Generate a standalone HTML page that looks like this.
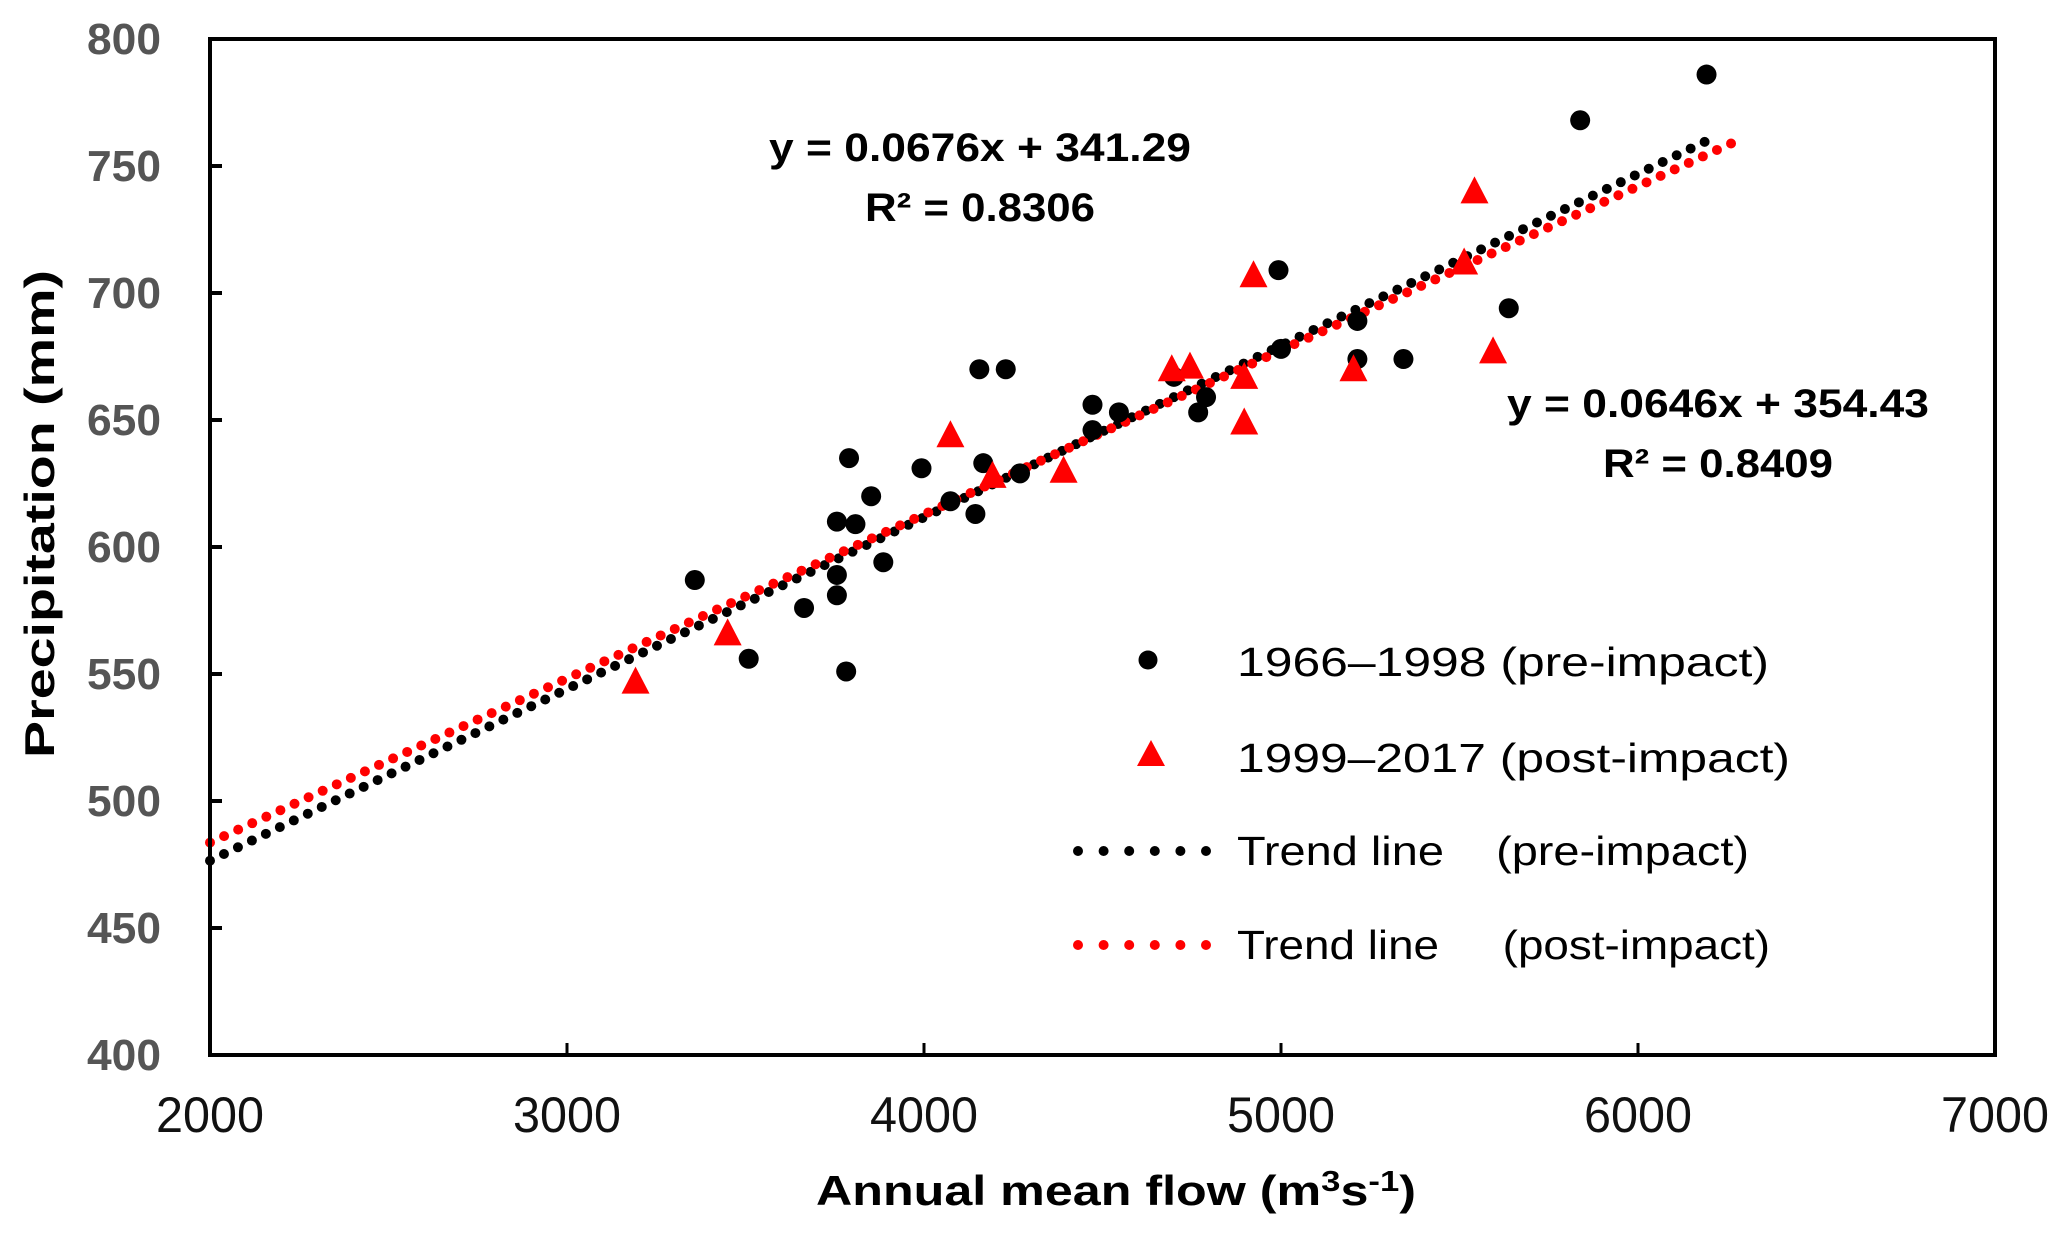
<!DOCTYPE html>
<html><head><meta charset="utf-8"><style>
html,body{margin:0;padding:0;background:#fff;}
svg{display:block;}
text{font-family:"Liberation Sans",sans-serif;}
</style></head><body>
<svg id="chart" width="2067" height="1237" viewBox="0 0 2067 1237" xmlns="http://www.w3.org/2000/svg">
<g id="trends"></g>
<g id="points"></g>
<rect x="210" y="39" width="1785" height="1016" fill="none" stroke="#000" stroke-width="4"/>
<g id="axes"></g>
<text x="980" y="161" text-anchor="middle" font-weight="bold" font-size="40" textLength="422" lengthAdjust="spacingAndGlyphs">y = 0.0676x + 341.29</text>
<text x="980" y="221" text-anchor="middle" font-weight="bold" font-size="40" textLength="230" lengthAdjust="spacingAndGlyphs">R² = 0.8306</text>
<text x="1718" y="417" text-anchor="middle" font-weight="bold" font-size="40" textLength="422" lengthAdjust="spacingAndGlyphs">y = 0.0646x + 354.43</text>
<text x="1718" y="477" text-anchor="middle" font-weight="bold" font-size="40" textLength="230" lengthAdjust="spacingAndGlyphs">R² = 0.8409</text>
<g>
<circle cx="1148" cy="660" r="9.5" fill="#000"/>
<text x="1237" y="676" font-size="41" textLength="532" lengthAdjust="spacingAndGlyphs">1966–1998 (pre-impact)</text>
<polygon points="1151,740 1165,766 1137,766" fill="#f00"/>
<text x="1237" y="772" font-size="41" textLength="553" lengthAdjust="spacingAndGlyphs">1999–2017 (post-impact)</text>
<line x1="1078" y1="851" x2="1206" y2="851" stroke="#000" stroke-width="10" stroke-linecap="round" stroke-dasharray="0 25.6"/>
<text x="1237" y="865" font-size="41" textLength="512" lengthAdjust="spacingAndGlyphs" xml:space="preserve">Trend line    (pre-impact)</text>
<line x1="1078" y1="945" x2="1206" y2="945" stroke="#f00" stroke-width="10" stroke-linecap="round" stroke-dasharray="0 25.6"/>
<text x="1237" y="959" font-size="41" textLength="533" lengthAdjust="spacingAndGlyphs" xml:space="preserve">Trend line     (post-impact)</text>
</g>
<text x="1116" y="1205" text-anchor="middle" font-weight="bold" font-size="42" textLength="600" lengthAdjust="spacingAndGlyphs">Annual mean flow (m<tspan font-size="29" dy="-14">3</tspan><tspan dy="14">s</tspan><tspan font-size="29" dy="-14">-1</tspan><tspan dy="14">)</tspan></text>
<text transform="translate(54,514) rotate(-90)" text-anchor="middle" font-weight="bold" font-size="42" textLength="488" lengthAdjust="spacingAndGlyphs">Precipitation (mm)</text>
</svg>
<script>
const preX=[3358,3509,3664,3756,3756,3756,3790,3808,3782,3852,3886,3993,4074,4144,4155,4229,4166,4269,4472,4472,4546,4700,4790,4768,4993,5000,5214,5214,5343,5638,5838,6192];
const preY=[587,556,576,610,589,581,635,609,551,620,594,631,618,613,670,670,633,629,656,646,653,667,659,653,709,678,689,674,674,694,768,786];
const postX=[3192,3450,4074,4192,4391,4694,4745,4897,4897,4923,5203,5513,5542,5594];
const postY=[547,566,644,628,630,670,671,667,649,707,670,712,740,677];
const xTicks=[2000,3000,4000,5000,6000,7000];
const yTicks=[400,450,500,550,600,650,700,750,800];
const preFit=[0.0676,341.29,2000,6200];
const postFit=[0.0646,354.43,2000,6270];

const NS='http://www.w3.org/2000/svg';
const X0=210,X1=1995,Y0=1055,Y1=39;
function sx(v){return X0+(v-2000)/5000*(X1-X0);}
function sy(v){return Y0-(v-400)/400*(Y0-Y1);}
function mk(t,a,p){const e=document.createElementNS(NS,t);for(const k in a)e.setAttribute(k,a[k]);p.appendChild(e);return e;}
const axes=document.getElementById('axes'),pts=document.getElementById('points'),tr=document.getElementById('trends');

yTicks.forEach(v=>{
  const l=mk('line',{x1:X0,x2:X0+12,y1:sy(v),y2:sy(v),stroke:'#000','stroke-width':4},axes);
  
  
  const t=mk('text',{x:161,y:sy(v)+15,'text-anchor':'end','font-size':44,'font-weight':'bold',fill:'#555',textLength:74,lengthAdjust:'spacingAndGlyphs'},axes);
  
  
  t.textContent=v;
});
xTicks.forEach(v=>{
  const l=mk('line',{x1:sx(v),x2:sx(v),y1:Y0,y2:Y0-12,stroke:'#000','stroke-width':3},axes);
  
  
  const t=mk('text',{x:sx(v),y:1132,'text-anchor':'middle','font-size':50,fill:'#111',textLength:108,lengthAdjust:'spacingAndGlyphs'},axes);
  
  
  t.textContent=v;
});
[[preFit,'#000'],[postFit,'#f00']].forEach(([f,c])=>{
  const l=mk('line',{x1:sx(f[2]),y1:sy(f[0]*f[2]+f[1]),x2:sx(f[3]),y2:sy(f[0]*f[3]+f[1]),stroke:c,'stroke-width':10,'stroke-linecap':'round','stroke-dasharray':'0 15.5'},tr);
  
  
});
preX.forEach((x,i)=>{
  const c=mk('circle',{cx:sx(x),cy:sy(preY[i]),r:10,fill:'#000'},pts);
  
  
});
postX.forEach((x,i)=>{
  const px=sx(x),py=sy(postY[i]);
  const p=mk('polygon',{points:`${px},${py-15} ${px+14},${py+12} ${px-14},${py+12}`,fill:'#f00'},pts);
  
  
});
</script>
</body></html>
